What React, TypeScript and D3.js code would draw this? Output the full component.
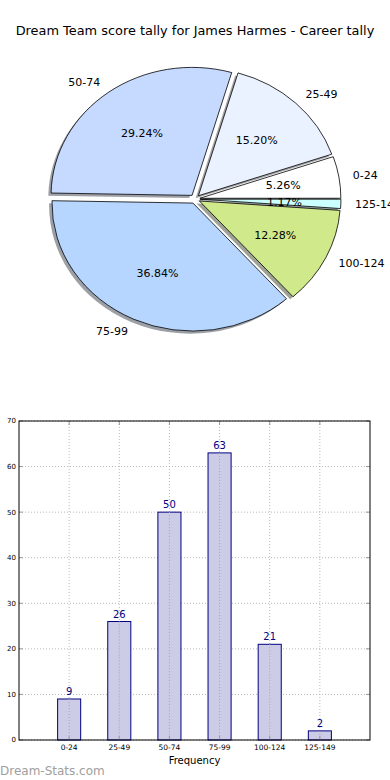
import React from 'react';
import * as d3 from 'd3';

const categories = ['0-24', '25-49', '50-74', '75-99', '100-124', '125-149'];
const counts = [9, 26, 50, 63, 21, 2];
const sliceColors = ['#ffffff', '#eaf1ff', '#c6d9ff', '#b6d6ff', '#cfe98b', '#ccffff'];
const yTicks = [0, 10, 20, 30, 40, 50, 60, 70];

const title = 'Dream Team score tally for James Harmes - Career tally';

const W = 390;
const H = 780;

// pie geometry (matplotlib pie without equal aspect -> ellipse)
const cx = 195;
const cy = 199;
const rx = 141;
const ry = 128;
const explode = 0.035;

const App = () => {
    const total = d3.sum(counts);

    // matplotlib starts at 3 o'clock and runs counter-clockwise
    const pie = d3.pie<number>()
        .sort(null)
        .value(d => d)
        .startAngle(Math.PI / 2)
        .endAngle(Math.PI / 2 - 2 * Math.PI);
    const slices = pie(counts);

    const arc = d3.arc<d3.PieArcDatum<number>>()
        .innerRadius(0)
        .outerRadius(rx);

    const pt = (a: number, k: number) => [Math.sin(a) * k * rx, -Math.cos(a) * k * ry];

    // bar chart
    const left = 19, right = 370, top = 421, bottom = 740;
    const x = d3.scaleLinear().domain([-1, categories.length]).range([left, right]);
    const y = d3.scaleLinear().domain([0, 70]).range([bottom, top]);
    const barW = 0.46;

    const font = 'DejaVu Sans, sans-serif';

    return (
        <svg width={W} height={H} style={{ position: 'absolute', left: 0, top: 0, background: '#fff' }}
            fontFamily={font}>
            <text x={195} y={35} textAnchor="middle" fontSize={12.9} fill="#000">{title}</text>

            {/* shadows */}
            {slices.map((s, i) => {
                const mid = (s.startAngle + s.endAngle) / 2;
                const [ex, ey] = pt(mid, explode);
                const c = d3.rgb(sliceColors[i]);
                const shade = d3.rgb(c.r * 0.3, c.g * 0.3, c.b * 0.3);
                return (
                    <g key={'sh' + i} transform={`translate(${cx + ex - 2.8},${cy + ey + 2.6}) scale(1,${ry / rx})`}>
                        <path d={arc(s) || ''} fill={shade.toString()} opacity={0.5} />
                    </g>
                );
            })}

            {/* slices */}
            {slices.map((s, i) => {
                const mid = (s.startAngle + s.endAngle) / 2;
                const [ex, ey] = pt(mid, explode);
                return (
                    <g key={'sl' + i} transform={`translate(${cx + ex},${cy + ey}) scale(1,${ry / rx})`}>
                        <path d={arc(s) || ''} fill={sliceColors[i]} stroke="#000" strokeWidth={0.8}
                            vectorEffect="non-scaling-stroke" strokeLinejoin="round" />
                    </g>
                );
            })}

            {/* labels */}
            {slices.map((s, i) => {
                const mid = (s.startAngle + s.endAngle) / 2;
                const [ex, ey] = pt(mid, explode);
                const [lx, ly] = pt(mid, 1.1);
                const [px, py] = pt(mid, 0.6);
                return (
                    <g key={'lb' + i} fontSize={11} fill="#000">
                        <text x={cx + ex + lx} y={cy + ey + ly} dy="0.35em"
                            textAnchor={lx > 0 ? 'start' : 'end'}>{categories[i]}</text>
                        <text x={cx + ex + px} y={cy + ey + py} dy="0.35em"
                            textAnchor="middle">{(counts[i] / total * 100).toFixed(2)}%</text>
                    </g>
                );
            })}

            {/* bar chart grid */}
            {yTicks.map(t => (
                <line key={'gy' + t} x1={left} x2={right} y1={y(t)} y2={y(t)}
                    stroke="#b8b8b8" strokeWidth={1} strokeDasharray="1,2" />
            ))}
            {categories.map((c, i) => (
                <line key={'gx' + c} x1={x(i)} x2={x(i)} y1={top} y2={bottom}
                    stroke="#b8b8b8" strokeWidth={1} strokeDasharray="1,2" />
            ))}

            {categories.map((c, i) => (
                <g key={'bar' + c}>
                    <rect x={x(i - barW / 2)} y={y(counts[i])} width={x(barW) - x(0)}
                        height={bottom - y(counts[i])} fill="#cccce6" stroke="#000080" strokeWidth={1} />
                    <text x={x(i)} y={y(counts[i]) - 4} textAnchor="middle" fontSize={10}
                        fill="#000080">{counts[i]}</text>
                </g>
            ))}

            {/* grid lines stay visible over the bars */}
            {categories.map((c, i) => (
                <line key={'gx2' + c} x1={x(i)} x2={x(i)} y1={y(counts[i])} y2={bottom}
                    stroke="#a0a0b8" strokeWidth={1} strokeDasharray="1,2" />
            ))}

            {/* ticks inside */}
            {yTicks.map(t => (
                <g key={'ty' + t}>
                    <line x1={right} x2={right - 4} y1={y(t)} y2={y(t)} stroke="#999" />
                    <line x1={left} x2={left + 4} y1={y(t)} y2={y(t)} stroke="#999" />
                    <text x={left - 3} y={y(t)} dy="0.35em" textAnchor="end" fontSize={7}
                        fill="#000">{t}</text>
                </g>
            ))}
            {categories.map((c, i) => (
                <g key={'tx' + c}>
                    <line x1={x(i)} x2={x(i)} y1={top} y2={top + 4} stroke="#999" />
                    <line x1={x(i)} x2={x(i)} y1={bottom} y2={bottom - 4} stroke="#999" />
                    <text x={x(i)} y={bottom + 10} textAnchor="middle" fontSize={7.5} fill="#000">{c}</text>
                </g>
            ))}

            <rect x={left} y={top} width={right - left} height={bottom - top} fill="none" stroke="#000" strokeWidth={1} />

            <text x={(left + right) / 2} y={764} textAnchor="middle" fontSize={10} fill="#000">Frequency</text>
            <text x={0} y={775} fontSize={12} fill="#a0a0a0">Dream-Stats.com</text>
        </svg>
    );
};

export default App;
